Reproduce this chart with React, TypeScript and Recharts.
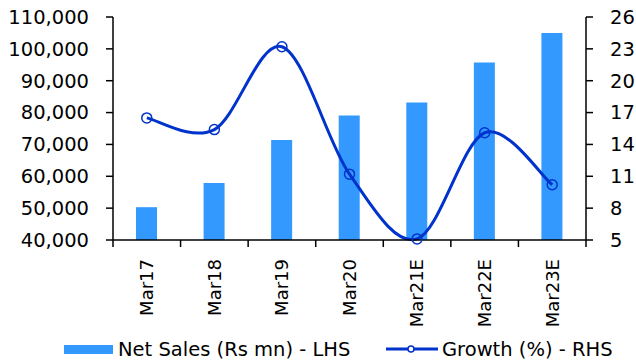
import React from "react";
import { ComposedChart, Bar, Line, XAxis, YAxis } from "recharts";

// Net sales (LHS) and growth (RHS), FY Mar17 – Mar23E
const years = ["Mar17", "Mar18", "Mar19", "Mar20", "Mar21E", "Mar22E", "Mar23E"];
const netSales = [50300, 57900, 71400, 79100, 83200, 95700, 105000];
const growthPct = [16.5, 15.4, 23.2, 11.2, 5.1, 15.1, 10.2];
const salesTicks = [40000, 50000, 60000, 70000, 80000, 90000, 100000, 110000];
const growthTicks = [5, 8, 11, 14, 17, 20, 23, 26];

const data = years.map((year, i) => ({ year, sales: netSales[i], growth: growthPct[i] }));

const BAR = "#3399FF";
const LINE = "#0033CC";
const FONT = "DejaVu Sans";

// Excel-like smoothed line (cardinal spline, tension 0)
const excelSmooth = (context: any) => {
  let pts: [number, number][] = [];
  return {
    areaStart() {},
    areaEnd() {},
    lineStart() { pts = []; },
    lineEnd() {
      if (!pts.length) return;
      context.moveTo(pts[0][0], pts[0][1]);
      for (let i = 0; i < pts.length - 1; i++) {
        const p0 = pts[Math.max(i - 1, 0)];
        const p1 = pts[i];
        const p2 = pts[i + 1];
        const p3 = pts[Math.min(i + 2, pts.length - 1)];
        context.bezierCurveTo(
          p1[0] + (p2[0] - p0[0]) / 6, p1[1] + (p2[1] - p0[1]) / 6,
          p2[0] - (p3[0] - p1[0]) / 6, p2[1] - (p3[1] - p1[1]) / 6,
          p2[0], p2[1],
        );
      }
    },
    point(x: number, y: number) { pts.push([x, y]); },
  };
};

// category label rotated, plus tick marks on the category boundaries
function YearTick(props: any) {
  const { x, y, payload, index, width } = props;
  const band = width / years.length;
  return (
    <g>
      <line x1={x - band / 2} y1={y} x2={x - band / 2} y2={y + 7} stroke="#000" strokeWidth={1.5} />
      {index === years.length - 1 && (
        <line x1={x + band / 2} y1={y} x2={x + band / 2} y2={y + 7} stroke="#000" strokeWidth={1.5} />
      )}
      <text
        transform={`translate(${x},${y + 19}) rotate(-90)`}
        textAnchor="end"
        dy="0.35em"
        fontSize={18}
        fontFamily={FONT}
        fill="#000"
      >
        {payload.value}
      </text>
    </g>
  );
}

function ChartLegend() {
  const text: React.CSSProperties = {
    position: "absolute", top: 0, fontSize: 19.5, lineHeight: "20px", fontFamily: FONT, color: "#000", whiteSpace: "nowrap",
  };
  return (
    <div style={{ position: "absolute", left: 0, top: 340, width: 636, height: 22 }}>
      <span style={{ position: "absolute", left: 64, top: 5, width: 49, height: 9, background: BAR }} />
      <span style={{ ...text, left: 118 }}>Net Sales (Rs mn) - LHS</span>
      <svg style={{ position: "absolute", left: 386, top: 4 }} width={52} height={10}>
        <line x1={0} y1={5} x2={52} y2={5} stroke={LINE} strokeWidth={3} />
        <circle cx={25} cy={5} r={3} fill="#fff" stroke={LINE} strokeWidth={1.5} />
      </svg>
      <span style={{ ...text, left: 442 }}>Growth (%) - RHS</span>
    </div>
  );
}

export default function App() {
  return (
    <div style={{ position: "absolute", left: 0, top: 0, width: 636, height: 362, background: "#fff", fontFamily: FONT }}>
      <ComposedChart width={636} height={362} data={data} margin={{ top: 17, right: 0, bottom: 0, left: 0 }}>
        <XAxis
          dataKey="year"
          height={122}
          axisLine={{ stroke: "#000", strokeWidth: 1.5 }}
          tickLine={false}
          tickSize={0}
          tickMargin={0}
          interval={0}
          tick={(p: any) => <YearTick {...p} />}
        />
        <YAxis
          yAxisId="left"
          width={113}
          domain={[40000, 110000]}
          ticks={salesTicks}
          interval={0}
          tickFormatter={(v: number) => v.toLocaleString("en-US")}
          axisLine={{ stroke: "#000", strokeWidth: 1.5 }}
          tickLine={{ stroke: "#000", strokeWidth: 1.5 }}
          tickSize={7}
          tickMargin={17}
          tick={{ fontSize: 19.5, fontFamily: FONT, fill: "#000" }}
        />
        <YAxis
          yAxisId="right"
          orientation="right"
          width={50}
          domain={[5, 26]}
          ticks={growthTicks}
          interval={0}
          axisLine={{ stroke: "#000", strokeWidth: 1.5 }}
          tickLine={{ stroke: "#000", strokeWidth: 1.5 }}
          tickSize={7}
          tickMargin={17}
          tick={{ fontSize: 19.5, fontFamily: FONT, fill: "#000", textAnchor: "start" }}
        />
        <Bar yAxisId="left" dataKey="sales" fill={BAR} barSize={21} isAnimationActive={false} />
        <Line
          yAxisId="right"
          dataKey="growth"
          type={excelSmooth as any}
          stroke={LINE}
          strokeWidth={3}
          dot={{ r: 5, fill: "none", stroke: LINE, strokeWidth: 1.5 }}
          activeDot={false}
          isAnimationActive={false}
        />
      </ComposedChart>
      <ChartLegend />
    </div>
  );
}
